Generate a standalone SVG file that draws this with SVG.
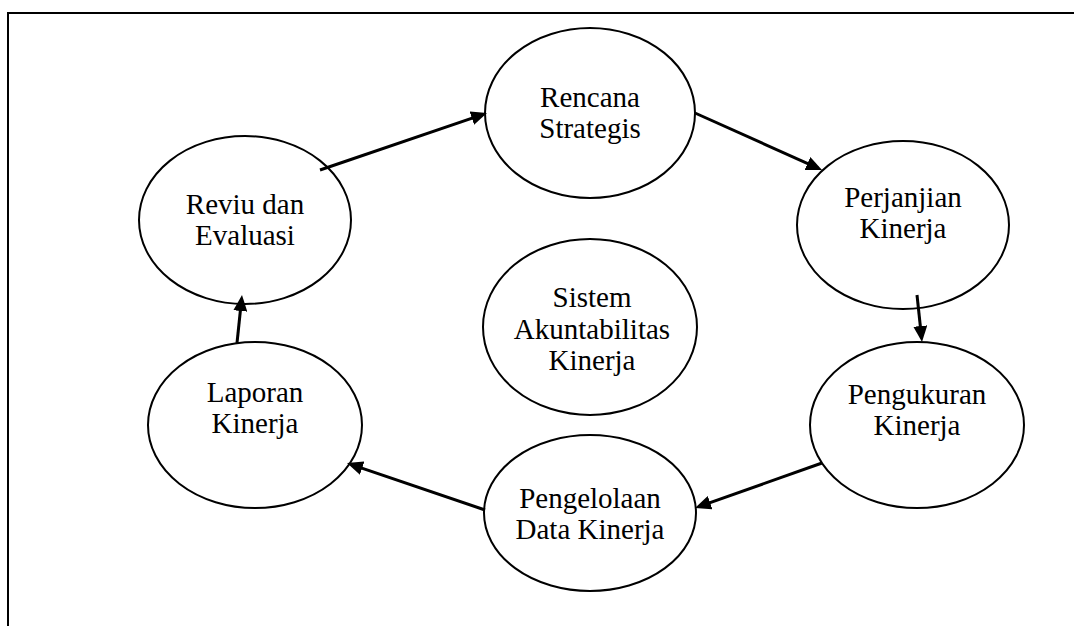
<svg xmlns="http://www.w3.org/2000/svg" width="1074" height="626" viewBox="0 0 1074 626">
<defs>
<style>
.node ellipse{fill:#fff;stroke:#000;stroke-width:2}
.node text{font-family:"Liberation Serif","Times New Roman",serif;font-size:29px;fill:#000;text-anchor:middle}
.conn line{stroke:#000;stroke-width:3;marker-end:url(#ah)}
.frame{stroke:#000;stroke-width:2;fill:none}
</style>
<marker id="ah" markerUnits="userSpaceOnUse" markerWidth="16" markerHeight="14" viewBox="0 0 16 14" refX="12" refY="7" orient="auto"><path d="M0,0 L16,7 L0,14 z" fill="#000"/></marker>
</defs>
<rect width="1074" height="626" fill="#fff"/>
<path class="frame" d="M8,626 V13 H1074"/>
<g id="rencana" class="node"><ellipse cx="590" cy="113" rx="105" ry="85"/><text x="590" y="107">Rencana</text><text x="590" y="138">Strategis</text></g>
<g id="perjanjian" class="node"><ellipse cx="903" cy="225" rx="106" ry="84"/><text x="903" y="207">Perjanjian</text><text x="903" y="238">Kinerja</text></g>
<g id="pengukuran" class="node"><ellipse cx="917" cy="425" rx="107" ry="83"/><text x="917" y="404">Pengukuran</text><text x="917" y="435">Kinerja</text></g>
<g id="pengelolaan" class="node"><ellipse cx="590" cy="513" rx="106" ry="78"/><text x="590" y="508">Pengelolaan</text><text x="590" y="539">Data Kinerja</text></g>
<g id="laporan" class="node"><ellipse cx="255" cy="425" rx="107" ry="83"/><text x="255" y="402">Laporan</text><text x="255" y="433">Kinerja</text></g>
<g id="reviu" class="node"><ellipse cx="245" cy="220" rx="106" ry="84"/><text x="245" y="214">Reviu dan</text><text x="245" y="245">Evaluasi</text></g>
<g id="sistem" class="node"><ellipse cx="590" cy="327" rx="107" ry="88"/><text x="592" y="307">Sistem</text><text x="592" y="339">Akuntabilitas</text><text x="592" y="370">Kinerja</text></g>
<g id="connectors" class="conn">
<line x1="320" y1="170" x2="483.2" y2="114.3"/>
<line x1="695" y1="113" x2="818.4" y2="168.4"/>
<line x1="917" y1="295" x2="921.6" y2="338"/>
<line x1="822" y1="463" x2="698.8" y2="506.7"/>
<line x1="485" y1="510" x2="350.8" y2="464.3"/>
<line x1="237" y1="343" x2="241.6" y2="299"/>
</g>
</svg>
